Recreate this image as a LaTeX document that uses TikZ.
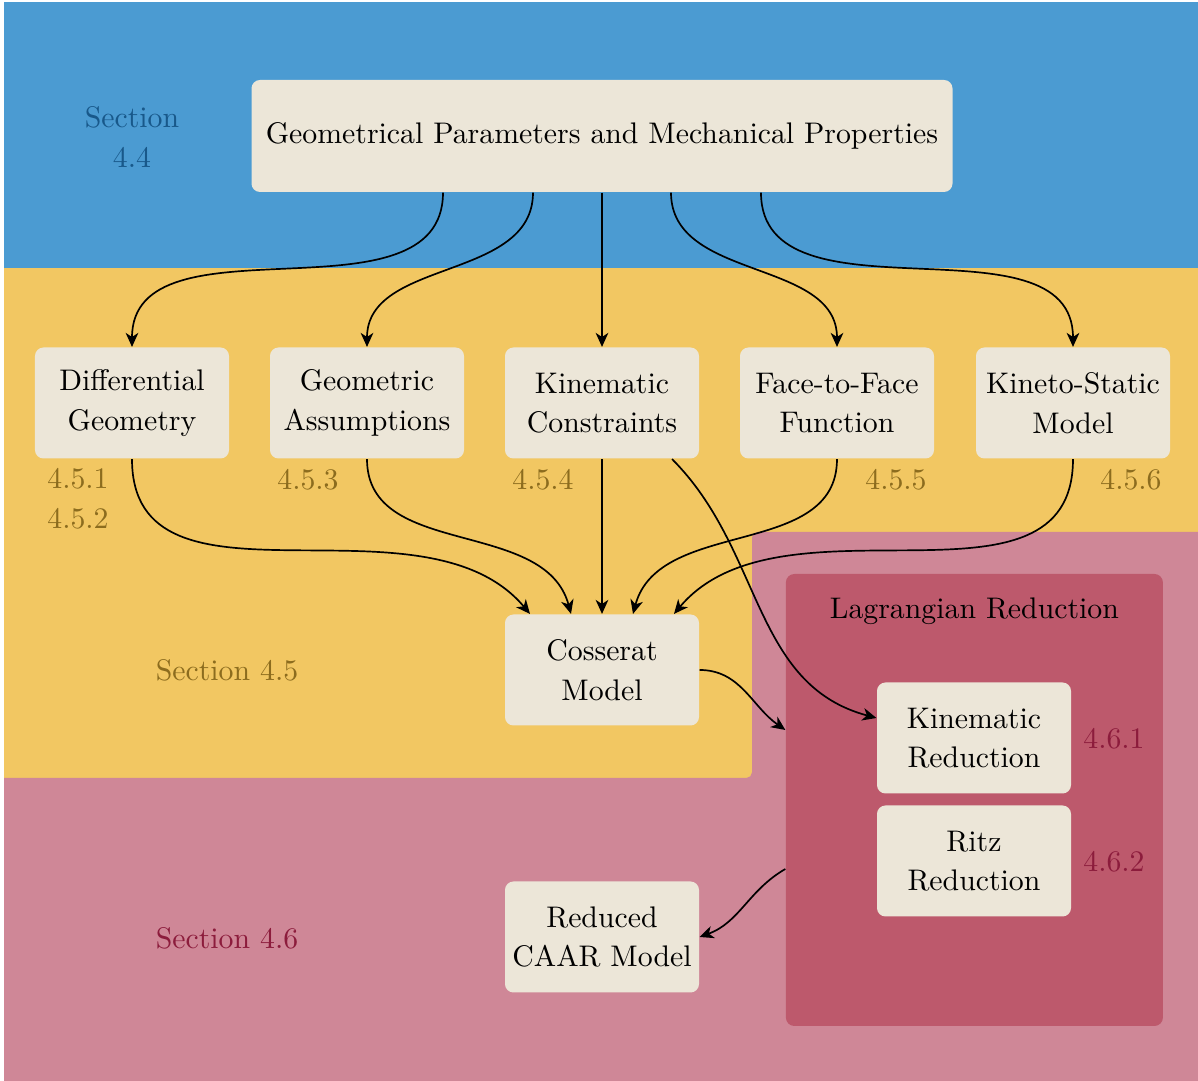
\documentclass[tikz,border=0pt]{standalone}
\usetikzlibrary{arrows.meta}
\definecolor{bandblue}{RGB}{75,155,210}
\definecolor{bandyellow}{RGB}{242,199,98}
\definecolor{bandpink}{RGB}{207,135,151}
\definecolor{lagpink}{RGB}{189,89,108}
\definecolor{boxfill}{RGB}{236,230,216}
\definecolor{txtblue}{RGB}{24,88,138}
\definecolor{txtyellow}{RGB}{140,108,30}
\definecolor{txtpink}{RGB}{140,28,60}
\tikzset{
  txt/.style={font=\fontsize{10.6}{14}\selectfont, align=center},
  box/.style={txt, fill=boxfill, rounded corners=3pt, inner sep=0pt,
    minimum width=2.425cm, minimum height=1.3875cm},
  flow/.style={-{Stealth[length=5pt,width=4.5pt,inset=1.5pt]}, semithick},
  secblue/.style={txt, text=txtblue},
  secyellow/.style={txt, text=txtyellow},
  secpink/.style={txt, text=txtpink}
}
\begin{document}
\begin{tikzpicture}
  \useasboundingbox (0,0) rectangle (14.975,13.5125);
  % section bands
  \begin{scope}
    \clip (0.05,0) rectangle (14.975,13.475);
    \fill[bandyellow] (0,0) rectangle (15,10.2);
    \fill[bandpink, rounded corners=2pt] (-1,-1) -- (-1,3.7875) -- (9.4,3.7875)
      -- (9.4,6.8625) -- (16,6.8625) -- (16,-1) -- cycle;
    \fill[bandblue] (0,10.1625) rectangle (15,14);
  \end{scope}
  \node[fill=lagpink, rounded corners=3pt, minimum width=4.7125cm, minimum height=5.65cm] (lag) at (12.18,3.5125) {};
  \node[txt] (lagtitle) at (12.18,5.875) {Lagrangian Reduction};

  \node[box, minimum width=8.7625cm, minimum height=1.4cm] (top) at (7.525,11.8125)
    {Geometrical Parameters and Mechanical Properties};
  \foreach \name/\x/\txt in {dg/1.65/{Differential\\Geometry}, ga/4.5875/{Geometric\\Assumptions},
      kc/7.525/{Kinematic\\Constraints}, ff/10.4625/{Face-to-Face\\Function}, ks/13.4125/{Kineto-Static\\Model}}
    \node[box] (\name) at (\x,8.475) {\txt};
  \node[box] (cos) at (7.525,5.1375) {Cosserat\\Model};
  \node[box] (kr) at (12.175,4.2875) {Kinematic\\Reduction};
  \node[box] (ritz) at (12.175,2.75) {Ritz\\Reduction};
  \node[box] (caar) at (7.525,1.8) {Reduced\\CAAR Model};

  % section numbers
  \node[secblue] (s44) at (1.65,11.8) {Section\\4.4};
  \node[secyellow] (s451) at (0.975,7.28) {4.5.1\\4.5.2};
  \node[secyellow] (s453) at (3.85,7.5125) {4.5.3};
  \node[secyellow] (s454) at (6.7875,7.5125) {4.5.4};
  \node[secyellow] (s455) at (11.2,7.5125) {4.5.5};
  \node[secyellow] (s456) at (14.1375,7.5125) {4.5.6};
  \node[secyellow] (s45) at (2.8375,5.1375) {Section 4.5};
  \node[secpink] (s46) at (2.8375,1.7875) {Section 4.6};
  \node[secpink] (s461) at (13.925,4.275) {4.6.1};
  \node[secpink] (s462) at (13.925,2.7375) {4.6.2};

  % connectors
  \foreach \s/\n in {-1.9875/dg, -0.8625/ga, 0/kc, 0.8625/ff, 1.9875/ks}
    \draw[flow] ([xshift=\s cm]top.south) to[out=-90,in=90] (\n.north);
  \foreach \n/\s/\a in {dg/-0.9/130, ga/-0.3875/105, kc/0/90, ff/0.3875/75, ks/0.9/50}
    \draw[flow] (\n.south) to[out=-90,in=\a] ([xshift=\s cm]cos.north);
  \draw[flow] ([xshift=0.875cm]kc.south) to[out=-45,in=165] ([yshift=0.25cm]kr.west);
  \draw[flow] (cos.east) to[out=0,in=145] ([yshift=0.875cm]lag.west);
  \draw[flow] ([yshift=-0.8625cm]lag.west) to[out=210,in=20] (caar.east);
\end{tikzpicture}
\end{document}
